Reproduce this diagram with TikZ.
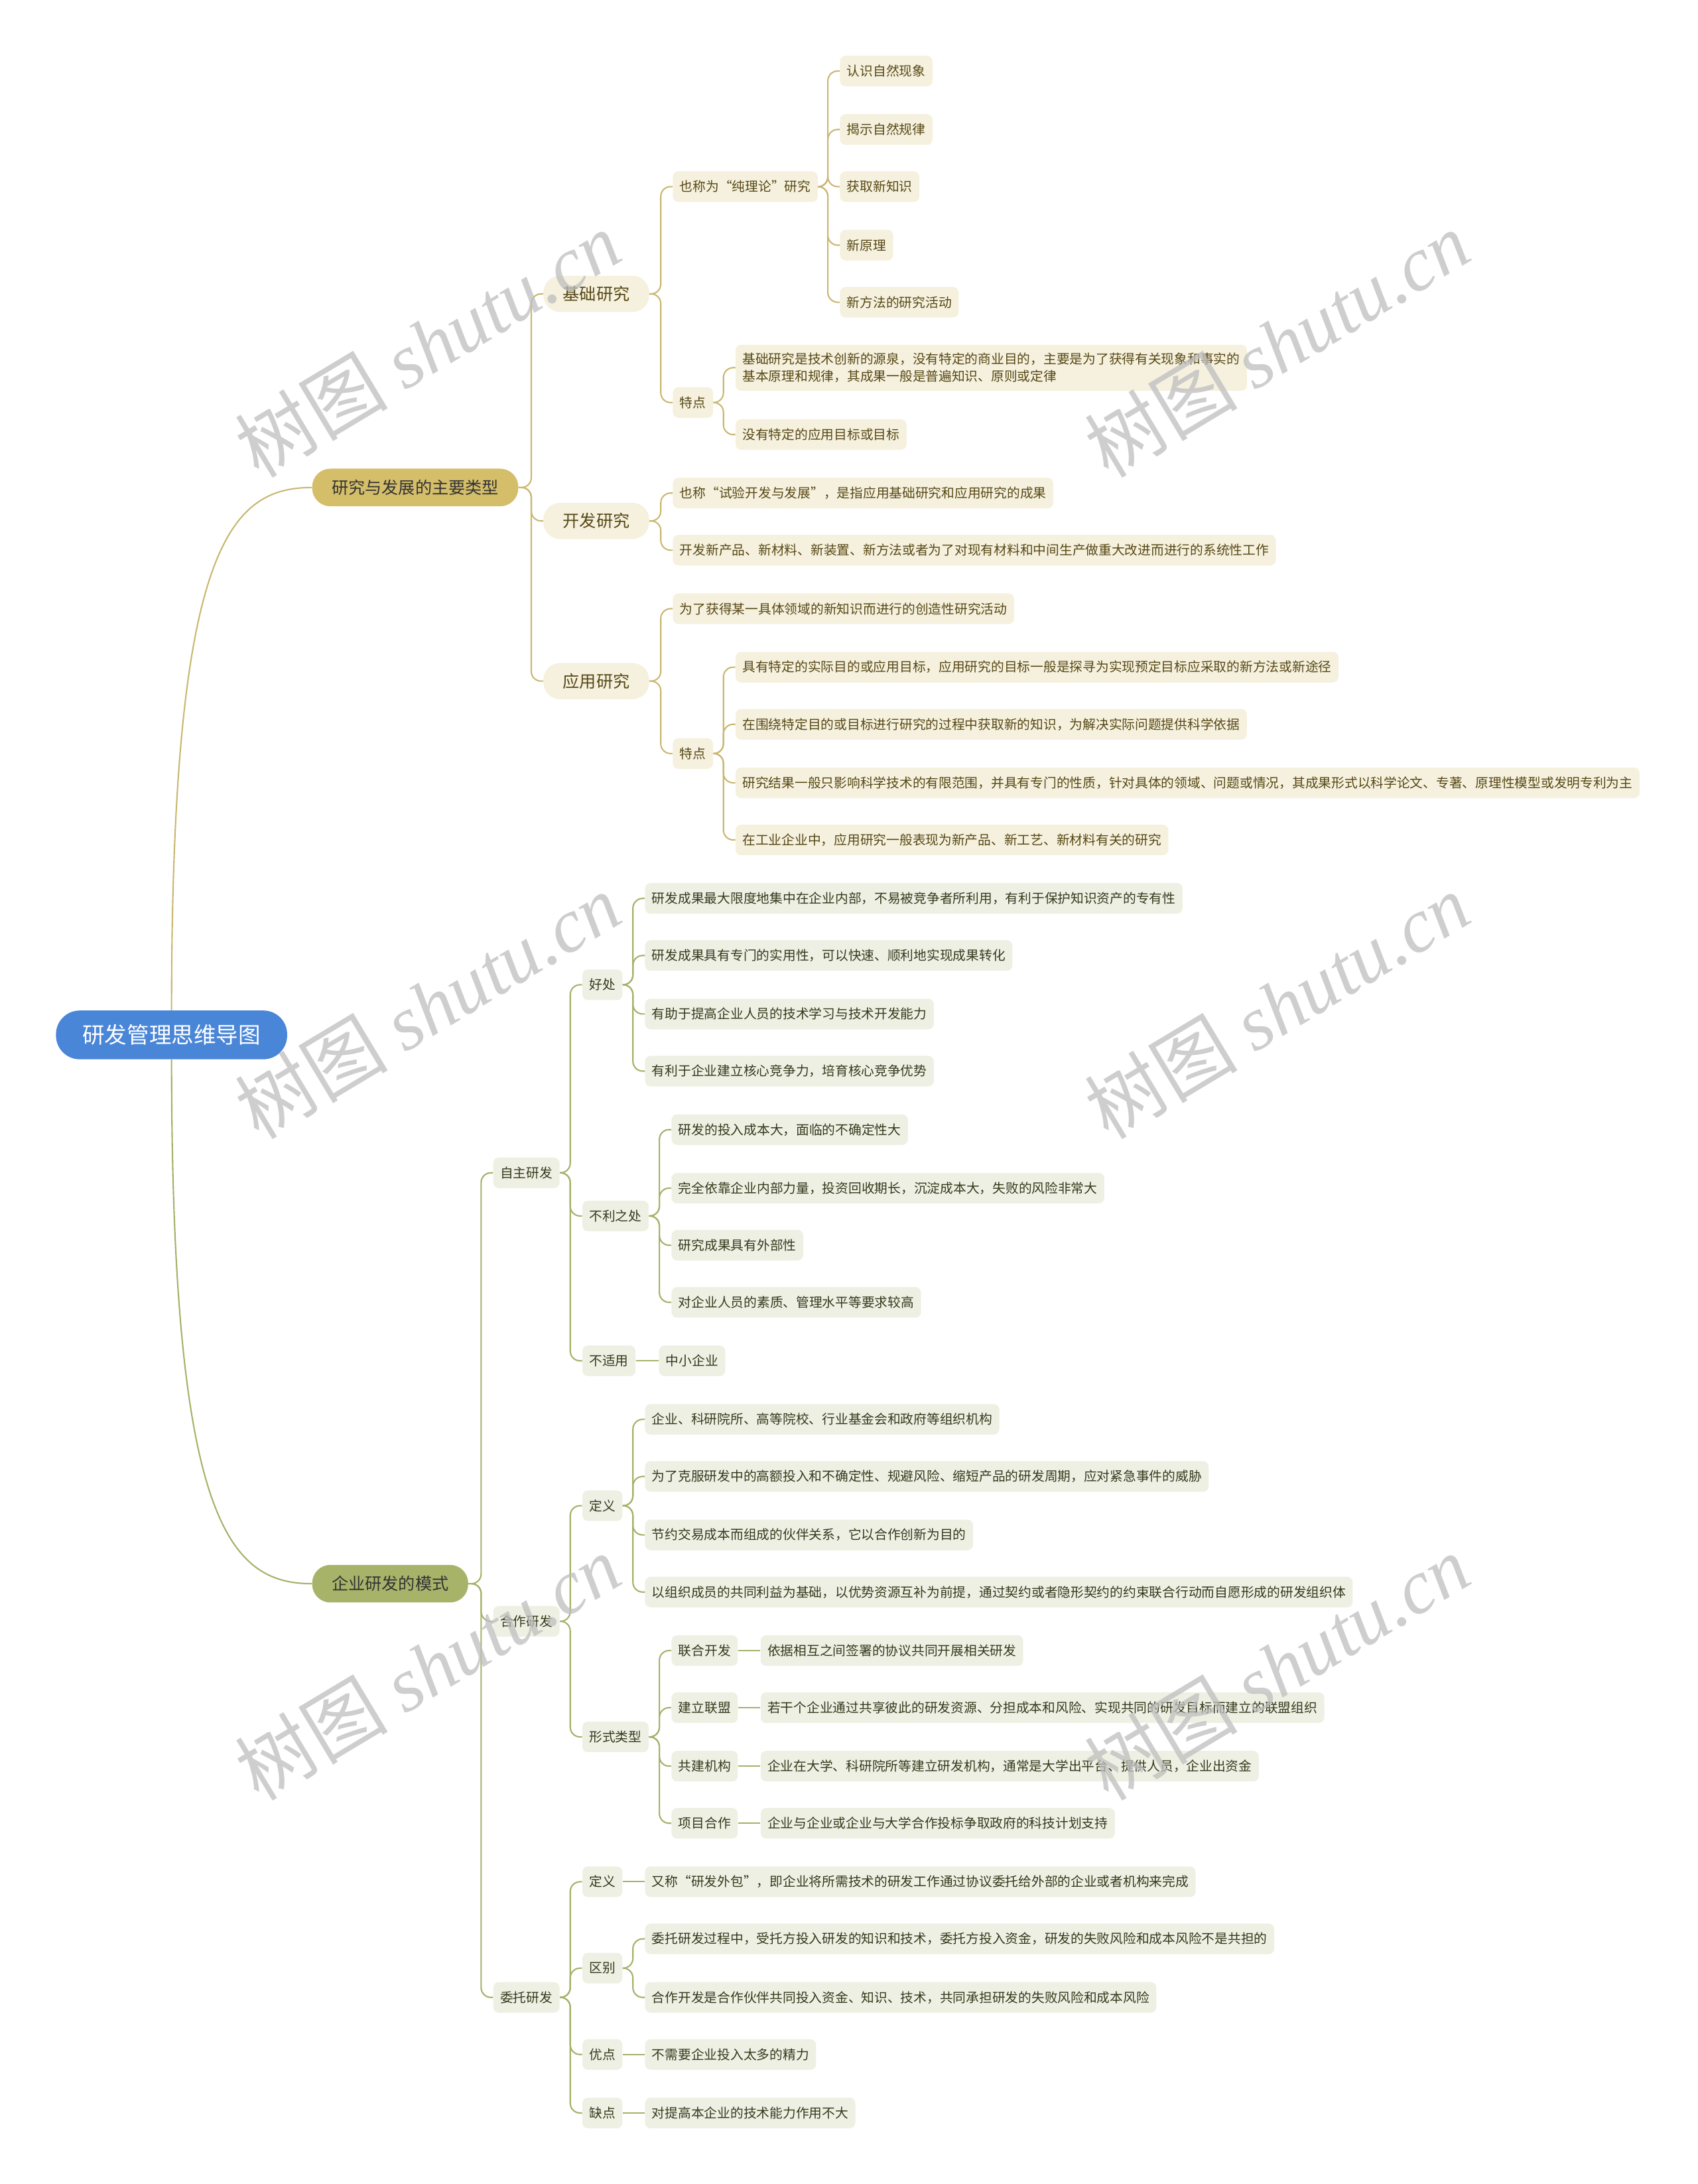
\documentclass[tikz,border=0pt]{standalone}
\usepackage{fontspec}
\setmainfont{Noto Sans CJK SC}
\newfontfamily\wmserif{Liberation Serif}
\usetikzlibrary{positioning}
\definecolor{cRoot}{RGB}{74,134,216}
\definecolor{cGold}{RGB}{212,190,106}
\definecolor{cGoldLine}{RGB}{201,183,112}
\definecolor{cGoldFill}{RGB}{245,241,222}
\definecolor{cGoldText}{RGB}{88,72,22}
\definecolor{cOlive}{RGB}{168,179,106}
\definecolor{cOliveLine}{RGB}{166,177,104}
\definecolor{cOliveFill}{RGB}{239,240,228}
\definecolor{cOliveText}{RGB}{52,58,28}
\definecolor{cMark}{RGB}{190,190,190}
\tikzset{
	rootbox/.style ={rectangle, rounded corners=17pt, fill=cRoot, text=white, minimum height=35pt, inner xsep=19pt, anchor=west, font=\fontsize{16}{18}\selectfont},
	mainbox/.style ={rectangle, rounded corners=13pt, minimum height=27pt, inner xsep=14pt, anchor=west, text=black!80, font=\fontsize{12}{14}\selectfont},
	topicbox/.style={rectangle, rounded corners=12pt, minimum height=26pt, inner xsep=14pt, anchor=west, font=\fontsize{12}{14}\selectfont},
	leafbox/.style ={rectangle, rounded corners=4pt, minimum height=22pt, inner xsep=5pt, anchor=west, align=left, font=\fontsize{9.4}{12}\selectfont},
	gold/.style    ={fill=cGoldFill, text=cGoldText},
	olive/.style   ={fill=cOliveFill, text=cOliveText},
	% connector styles
	glink/.style   ={draw=cGoldLine, line width=1pt, rounded corners=7pt},
	olink/.style   ={draw=cOliveLine, line width=1pt, rounded corners=7pt},
	% watermark
	wmark/.style   ={cMark, opacity=0.75, rotate=31, font=\fontsize{55}{55}\selectfont},
}
\begin{document}
\begin{tikzpicture}[x=1pt, y=-1pt]
	\useasboundingbox (0,0) rectangle (1219,1568);
	% root and main topics
	\node[rootbox] (rt) at (40,743) {研发管理思维导图};
	\node[mainbox, fill=cGold] (typ) at (224,350) {研究与发展的主要类型};
	\node[mainbox, fill=cOlive] (mode) at (224,1137) {企业研发的模式};
	\draw[glink] (rt.north) .. controls +(0,-330) and +(-60,0) .. (typ.west);
	\draw[olink] (rt.south) .. controls +(0,330) and +(-60,0) .. (mode.west);

	% ---- research types
	\node[topicbox, gold] (base) at (390,211) {基础研究};
	\node[topicbox, gold] (dev) at (390,374) {开发研究};
	\node[topicbox, gold] (appl) at (390,489) {应用研究};
	\foreach \c in {base,dev,appl}
		\draw[glink] (\c.west) -- ++(-8.5,0) |- (typ.east);

	\node[leafbox, gold] (pure) at (483,134) {也称为“纯理论”研究};
	\node[leafbox, gold] (bfeat) at (483,289) {特点};
	\foreach \c in {pure,bfeat}
		\draw[glink] (\c.west) -- ++(-8.5,0) |- (base.east);

	\node[leafbox, gold] (p1) at (603,51) {认识自然现象};
	\node[leafbox, gold] (p2) at (603,93) {揭示自然规律};
	\node[leafbox, gold] (p3) at (603,134) {获取新知识};
	\node[leafbox, gold] (p4) at (603,176) {新原理};
	\node[leafbox, gold] (p5) at (603,217) {新方法的研究活动};
	\foreach \c in {p1,p2,p3,p4,p5}
		\draw[glink] (\c.west) -- ++(-8.5,0) |- (pure.east);

	\node[leafbox, gold, minimum height=33pt] (bf1) at (528,264) {基础研究是技术创新的源泉，没有特定的商业目的，主要是为了获得有关现象和事实的\\基本原理和规律，其成果一般是普遍知识、原则或定律};
	\node[leafbox, gold] (bf2) at (528,312) {没有特定的应用目标或目标};
	\foreach \c in {bf1,bf2}
		\draw[glink] (\c.west) -- ++(-8.5,0) |- (bfeat.east);

	\node[leafbox, gold] (d1) at (483,354) {也称“试验开发与发展”，是指应用基础研究和应用研究的成果};
	\node[leafbox, gold] (d2) at (483,395) {开发新产品、新材料、新装置、新方法或者为了对现有材料和中间生产做重大改进而进行的系统性工作};
	\foreach \c in {d1,d2}
		\draw[glink] (\c.west) -- ++(-8.5,0) |- (dev.east);

	\node[leafbox, gold] (a1) at (483,437) {为了获得某一具体领域的新知识而进行的创造性研究活动};
	\node[leafbox, gold] (afeat) at (483,541) {特点};
	\foreach \c in {a1,afeat}
		\draw[glink] (\c.west) -- ++(-8.5,0) |- (appl.east);

	\node[leafbox, gold] (af1) at (528,479) {具有特定的实际目的或应用目标，应用研究的目标一般是探寻为实现预定目标应采取的新方法或新途径};
	\node[leafbox, gold] (af2) at (528,520) {在围绕特定目的或目标进行研究的过程中获取新的知识，为解决实际问题提供科学依据};
	\node[leafbox, gold] (af3) at (528,562) {研究结果一般只影响科学技术的有限范围，并具有专门的性质，针对具体的领域、问题或情况，其成果形式以科学论文、专著、原理性模型或发明专利为主};
	\node[leafbox, gold] (af4) at (528,603) {在工业企业中，应用研究一般表现为新产品、新工艺、新材料有关的研究};
	\foreach \c in {af1,af2,af3,af4}
		\draw[glink] (\c.west) -- ++(-8.5,0) |- (afeat.east);

	% ---- enterprise modes
	\node[leafbox, olive] (self) at (354,842) {自主研发};
	\node[leafbox, olive] (coop) at (354,1164) {合作研发};
	\node[leafbox, olive] (ent) at (354,1434) {委托研发};
	\foreach \c in {self,coop,ent}
		\draw[olink] (\c.west) -- ++(-8.5,0) |- (mode.east);

	\node[leafbox, olive] (good) at (418,707) {好处};
	\node[leafbox, olive] (bad) at (418,873) {不利之处};
	\node[leafbox, olive] (nofit) at (418,977) {不适用};
	\foreach \c in {good,bad,nofit}
		\draw[olink] (\c.west) -- ++(-8.5,0) |- (self.east);

	\node[leafbox, olive] (g1) at (463,645) {研发成果最大限度地集中在企业内部，不易被竞争者所利用，有利于保护知识资产的专有性};
	\node[leafbox, olive] (g2) at (463,686) {研发成果具有专门的实用性，可以快速、顺利地实现成果转化};
	\node[leafbox, olive] (g3) at (463,728) {有助于提高企业人员的技术学习与技术开发能力};
	\node[leafbox, olive] (g4) at (463,769) {有利于企业建立核心竞争力，培育核心竞争优势};
	\foreach \c in {g1,g2,g3,g4}
		\draw[olink] (\c.west) -- ++(-8.5,0) |- (good.east);

	\node[leafbox, olive] (b1) at (482,811) {研发的投入成本大，面临的不确定性大};
	\node[leafbox, olive] (b2) at (482,853) {完全依靠企业内部力量，投资回收期长，沉淀成本大，失败的风险非常大};
	\node[leafbox, olive] (b3) at (482,894) {研究成果具有外部性};
	\node[leafbox, olive] (b4) at (482,935) {对企业人员的素质、管理水平等要求较高};
	\foreach \c in {b1,b2,b3,b4}
		\draw[olink] (\c.west) -- ++(-8.5,0) |- (bad.east);

	\node[leafbox, olive] (sme) at (473,977) {中小企业};
	\draw[olink] (nofit.east) -- (sme.west);

	\node[leafbox, olive] (cdef) at (418,1081) {定义};
	\node[leafbox, olive] (ctype) at (418,1247) {形式类型};
	\foreach \c in {cdef,ctype}
		\draw[olink] (\c.west) -- ++(-8.5,0) |- (coop.east);

	\node[leafbox, olive] (c1) at (463,1019) {企业、科研院所、高等院校、行业基金会和政府等组织机构};
	\node[leafbox, olive] (c2) at (463,1060) {为了克服研发中的高额投入和不确定性、规避风险、缩短产品的研发周期，应对紧急事件的威胁};
	\node[leafbox, olive] (c3) at (463,1102) {节约交易成本而组成的伙伴关系，它以合作创新为目的};
	\node[leafbox, olive] (c4) at (463,1143) {以组织成员的共同利益为基础，以优势资源互补为前提，通过契约或者隐形契约的约束联合行动而自愿形成的研发组织体};
	\foreach \c in {c1,c2,c3,c4}
		\draw[olink] (\c.west) -- ++(-8.5,0) |- (cdef.east);

	\node[leafbox, olive] (t1) at (482,1185) {联合开发};
	\node[leafbox, olive] (t2) at (482,1226) {建立联盟};
	\node[leafbox, olive] (t3) at (482,1268) {共建机构};
	\node[leafbox, olive] (t4) at (482,1309) {项目合作};
	\foreach \c in {t1,t2,t3,t4}
		\draw[olink] (\c.west) -- ++(-8.5,0) |- (ctype.east);
	\node[leafbox, olive] (t1d) at (546,1185) {依据相互之间签署的协议共同开展相关研发};
	\node[leafbox, olive] (t2d) at (546,1226) {若干个企业通过共享彼此的研发资源、分担成本和风险、实现共同的研发目标而建立的联盟组织};
	\node[leafbox, olive] (t3d) at (546,1268) {企业在大学、科研院所等建立研发机构，通常是大学出平台、提供人员，企业出资金};
	\node[leafbox, olive] (t4d) at (546,1309) {企业与企业或企业与大学合作投标争取政府的科技计划支持};
	\foreach \c in {t1,t2,t3,t4}
		\draw[olink] (\c.east) -- (\c d.west);

	\node[leafbox, olive] (edef) at (418,1351) {定义};
	\node[leafbox, olive] (ediff) at (418,1413) {区别};
	\node[leafbox, olive] (epro) at (418,1475) {优点};
	\node[leafbox, olive] (econ) at (418,1517) {缺点};
	\foreach \c in {edef,ediff,epro,econ}
		\draw[olink] (\c.west) -- ++(-8.5,0) |- (ent.east);

	\node[leafbox, olive] (ed) at (463,1351) {又称“研发外包”，即企业将所需技术的研发工作通过协议委托给外部的企业或者机构来完成};
	\node[leafbox, olive] (e1) at (463,1392) {委托研发过程中，受托方投入研发的知识和技术，委托方投入资金，研发的失败风险和成本风险不是共担的};
	\node[leafbox, olive] (e2) at (463,1434) {合作开发是合作伙伴共同投入资金、知识、技术，共同承担研发的失败风险和成本风险};
	\node[leafbox, olive] (ep) at (463,1475) {不需要企业投入太多的精力};
	\node[leafbox, olive] (ec) at (463,1517) {对提高本企业的技术能力作用不大};
	\draw[olink] (edef.east) -- (ed.west);
	\foreach \c in {e1,e2}
		\draw[olink] (\c.west) -- ++(-8.5,0) |- (ediff.east);
	\draw[olink] (epro.east) -- (ep.west);
	\draw[olink] (econ.east) -- (ec.west);

	% watermarks
	\foreach \x in {307,917}
		\foreach \y in {247,722,1197}
			\node[wmark] at (\x,\y) {树图 {\wmserif\itshape shutu.cn}};
\end{tikzpicture}
\end{document}
